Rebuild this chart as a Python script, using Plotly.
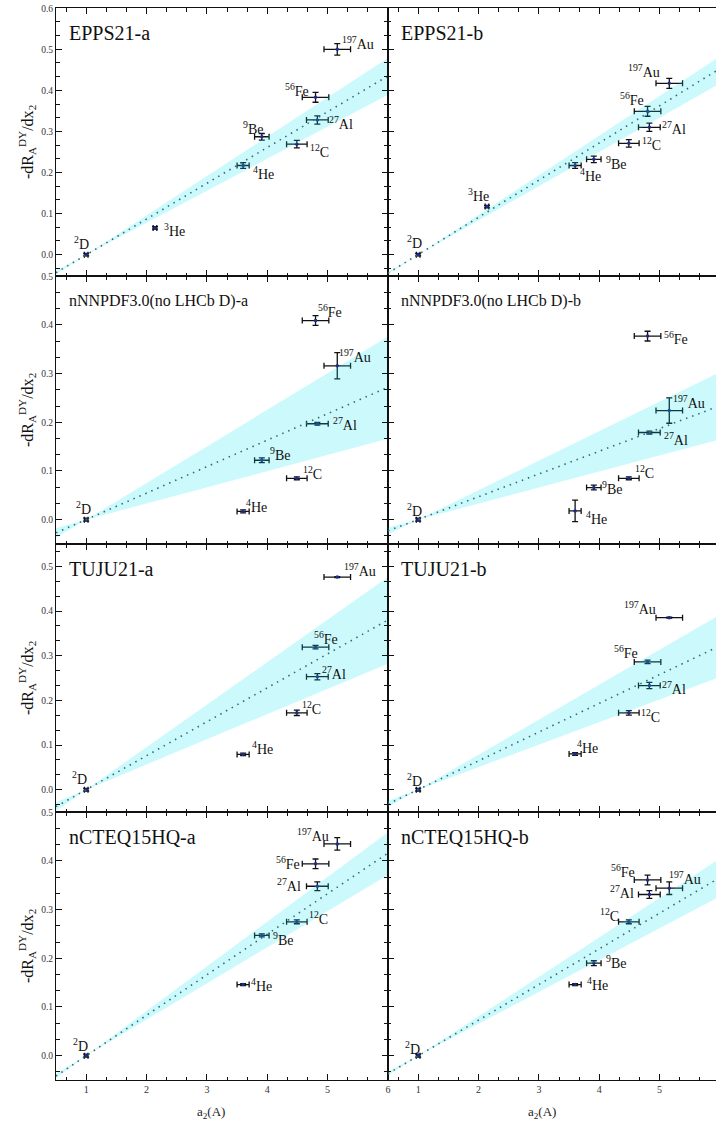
import plotly.graph_objects as go

# ---------------- data ----------------
nuclei = ["<sup>2</sup>D", "<sup>3</sup>He", "<sup>4</sup>He", "<sup>9</sup>Be",
          "<sup>12</sup>C", "<sup>27</sup>Al", "<sup>56</sup>Fe", "<sup>197</sup>Au"]
a2_vals = [1.00, 2.14, 3.60, 3.91, 4.49, 4.83, 4.80, 5.16]
a2_errs = [0.03, 0.03, 0.10, 0.12, 0.17, 0.18, 0.22, 0.22]

panel_names = ["EPPS21-a", "EPPS21-b",
               "nNNPDF3.0(no LHCb D)-a", "nNNPDF3.0(no LHCb D)-b",
               "TUJU21-a", "TUJU21-b",
               "nCTEQ15HQ-a", "nCTEQ15HQ-b"]

epps_a_y = [0.0, 0.065, 0.217, 0.287, 0.269, 0.328, 0.383, 0.500]
epps_a_err = [0.003, 0.003, 0.007, 0.008, 0.009, 0.010, 0.012, 0.014]
epps_b_y = [0.0, 0.117, 0.217, 0.232, 0.271, 0.310, 0.349, 0.417]
epps_b_err = [0.003, 0.003, 0.007, 0.008, 0.009, 0.010, 0.012, 0.012]
nnpdf_a_y = [0.0, None, 0.017, 0.122, 0.085, 0.197, 0.409, 0.316]
nnpdf_a_err = [0.003, None, 0.003, 0.005, 0.003, 0.003, 0.010, 0.027]
nnpdf_b_y = [0.0, None, 0.018, 0.066, 0.085, 0.179, 0.377, 0.224]
nnpdf_b_err = [0.003, None, 0.022, 0.005, 0.003, 0.003, 0.010, 0.026]
tuju_a_y = [0.0, None, 0.079, None, 0.172, 0.253, 0.319, 0.476]
tuju_a_err = [0.003, None, 0.003, None, 0.006, 0.007, 0.004, 0.001]
tuju_b_y = [0.0, None, 0.080, None, 0.172, 0.233, 0.286, 0.385]
tuju_b_err = [0.003, None, 0.003, None, 0.005, 0.007, 0.004, 0.001]
ncteq_a_y = [0.0, None, 0.146, 0.247, 0.275, 0.348, 0.394, 0.435]
ncteq_a_err = [0.003, None, 0.002, 0.003, 0.004, 0.009, 0.010, 0.013]
ncteq_b_y = [0.0, None, 0.146, 0.190, 0.275, 0.331, 0.361, 0.344]
ncteq_b_err = [0.003, None, 0.002, 0.005, 0.004, 0.008, 0.010, 0.013]

fit_x = [0.5, 6.0]
epps_a_fit = [-0.044, 0.435]
epps_b_fit = [-0.045, 0.453]
nnpdf_a_fit = [-0.027, 0.272]
nnpdf_b_fit = [-0.023, 0.234]
tuju_a_fit = [-0.038, 0.380]
tuju_b_fit = [-0.032, 0.322]
ncteq_a_fit = [-0.042, 0.416]
ncteq_b_fit = [-0.037, 0.366]

band_x = [0.5, 1.0, 6.0]
epps_a_lo, epps_a_hi = [-0.048, 0.0, 0.389], [-0.039, 0.0, 0.479]
epps_b_lo, epps_b_hi = [-0.048, 0.0, 0.417], [-0.042, 0.0, 0.483]
nnpdf_a_lo, nnpdf_a_hi = [-0.037, 0.0, 0.166], [-0.017, 0.0, 0.376]
nnpdf_b_lo, nnpdf_b_hi = [-0.030, 0.0, 0.165], [-0.016, 0.0, 0.303]
tuju_a_lo, tuju_a_hi = [-0.048, 0.0, 0.282], [-0.028, 0.0, 0.476]
tuju_b_lo, tuju_b_hi = [-0.039, 0.0, 0.252], [-0.025, 0.0, 0.392]
ncteq_a_lo, ncteq_a_hi = [-0.046, 0.0, 0.371], [-0.037, 0.0, 0.459]
ncteq_b_lo, ncteq_b_hi = [-0.041, 0.0, 0.327], [-0.033, 0.0, 0.405]

panel_y = [epps_a_y, epps_b_y, nnpdf_a_y, nnpdf_b_y, tuju_a_y, tuju_b_y, ncteq_a_y, ncteq_b_y]
panel_err = [epps_a_err, epps_b_err, nnpdf_a_err, nnpdf_b_err, tuju_a_err, tuju_b_err, ncteq_a_err, ncteq_b_err]
panel_fit = [epps_a_fit, epps_b_fit, nnpdf_a_fit, nnpdf_b_fit, tuju_a_fit, tuju_b_fit, ncteq_a_fit, ncteq_b_fit]
panel_lo = [epps_a_lo, epps_b_lo, nnpdf_a_lo, nnpdf_b_lo, tuju_a_lo, tuju_b_lo, ncteq_a_lo, ncteq_b_lo]
panel_hi = [epps_a_hi, epps_b_hi, nnpdf_a_hi, nnpdf_b_hi, tuju_a_hi, tuju_b_hi, ncteq_a_hi, ncteq_b_hi]

# ---------------- layout settings (label offsets in px: dx right, dy down) ----------------
label_offsets = [
    [(-5, -12), (20, 2), (20, 7), (-9, -9), (23, 7), (24, 3), (-19, -7), (21, -6)],
    [(-4, -13), (-8, -12), (15, 9), (22, 4), (23, 1), (25, 1), (-16, -12), (-25, -12)],
    [(-3, -12), None, (13, -5), (18, -6), (16, -5), (28, 0), (14, -10), (18, -10)],
    [(-4, -10), None, (21, 7), (18, 0), (16, -6), (27, 6), (28, 2), (20, -9)],
    [(-7, -12), None, (19, -6), None, (15, -5), (17, -4), (10, -9), (23, -7)],
    [(-4, -10), None, (12, -7), None, (22, 3), (25, 2), (-22, -10), (-29, -10)],
    [(-6, -11), None, (18, 0), (21, 4), (22, -4), (-28, -1), (-28, -1), (-24, -9)],
    [(-6, -8), None, (22, -1), (22, -1), (-19, -7), (-27, -3), (-25, -9), (16, -10)],
]
title_sizes = [20, 20, 16, 16, 20, 20, 20, 20]
row_yranges = [[-0.052, 0.6005], [-0.05, 0.5005], [-0.05, 0.55], [-0.05, 0.5005]]
row_domains = [[0.75, 1.0], [0.5, 0.75], [0.25, 0.5], [0.0, 0.25]]
col_domains = [[0.0, 0.503], [0.503, 1.0]]
col_xranges = [[0.5, 6.0001], [0.5, 5.934]]

SERIF = "Liberation Serif, Times New Roman, serif"
fig = go.Figure()
annotations = []

for i in range(8):
    r, c = divmod(i, 2)
    ax = "" if i == 0 else str(i + 1)
    xref, yref = "x" + ax, "y" + ax
    xs = [a2_vals[k] for k in range(8) if panel_y[i][k] is not None]
    xe = [a2_errs[k] for k in range(8) if panel_y[i][k] is not None]
    ys = [panel_y[i][k] for k in range(8) if panel_y[i][k] is not None]
    ye = [panel_err[i][k] for k in range(8) if panel_y[i][k] is not None]
    fig.add_trace(go.Scatter(
        x=xs, y=ys, mode="markers", xaxis=xref, yaxis=yref, showlegend=False,
        marker=dict(size=3.5, color="#1c2b8f"),
        error_x=dict(type="data", array=xe, color="#111111", thickness=1.3, width=3),
        error_y=dict(type="data", array=ye, color="#111111", thickness=1.3, width=3),
    ))
    bx = band_x + band_x[::-1]
    by = panel_hi[i] + panel_lo[i][::-1]
    fig.add_trace(go.Scatter(
        x=bx, y=by, mode="lines", fill="toself", xaxis=xref, yaxis=yref, showlegend=False,
        fillcolor="rgba(0,232,242,0.2)", line=dict(width=0), hoverinfo="skip",
    ))
    fig.add_trace(go.Scatter(
        x=fit_x, y=panel_fit[i], mode="lines", xaxis=xref, yaxis=yref, showlegend=False,
        line=dict(color="#2b6e78", width=1.6, dash="1.5px,5px"),
    ))
    for k in range(8):
        if panel_y[i][k] is None or label_offsets[i][k] is None:
            continue
        dx, dy = label_offsets[i][k]
        annotations.append(dict(
            x=a2_vals[k], y=panel_y[i][k], xref=xref, yref=yref, text=nuclei[k],
            showarrow=False, xshift=dx, yshift=-dy, xanchor="center", yanchor="middle",
            font=dict(family=SERIF, size=14, color="#111111"),
        ))
    annotations.append(dict(
        x=0, y=1, xref=xref + " domain", yref=yref + " domain", text=panel_names[i],
        showarrow=False, xshift=11, yshift=-25, xanchor="left", yanchor="middle",
        font=dict(family=SERIF, size=title_sizes[i], color="#111111"),
    ))

    minor_x = dict(dtick=1 / 3, tick0=0, ticklen=3.5, tickwidth=1.1, tickcolor="#111111",
                   ticks="inside", showgrid=False)
    minor_y = dict(dtick=0.1 / 3, tick0=0, ticklen=3.5, tickwidth=1.1, tickcolor="#111111",
                   ticks="inside", showgrid=False)
    fig.update_layout(**{
        ("xaxis" + ax): dict(
            domain=col_domains[c], range=col_xranges[c], anchor=yref,
            showline=True, linecolor="#111111", linewidth=1, mirror="allticks",
            ticks="inside", ticklen=6, tickwidth=1.2, tickcolor="#111111",
            dtick=1, tick0=0, showgrid=False, zeroline=False,
            showticklabels=(r == 3),
            tickfont=dict(family=SERIF, size=10, color="#333333"),
            minor=minor_x,
        ),
        ("yaxis" + ax): dict(
            domain=row_domains[r], range=row_yranges[r], anchor=xref,
            showline=True, linecolor="#111111", linewidth=1,
            mirror=("allticks" if c == 0 else False),
            ticks="inside", ticklen=6, tickwidth=1.2, tickcolor="#111111",
            dtick=0.1, tick0=0, tickformat=".1f", showgrid=False, zeroline=False,
            showticklabels=(c == 0),
            tickfont=dict(family=SERIF, size=9.5, color="#333333"),
            minor=minor_y,
        ),
    })

# y-axis titles
for r in range(4):
    annotations.append(dict(
        x=-0.0438, y=sum(row_domains[r]) / 2, xref="paper", yref="paper",
        text="-dR<sub>A</sub><sup>DY</sup>/dx<sub>2</sub>", textangle=-90,
        showarrow=False, xanchor="center", yanchor="middle",
        font=dict(family=SERIF, size=16, color="#111111"),
    ))
# x-axis titles
for xc in [0.235, 0.736]:
    annotations.append(dict(
        x=xc, y=-0.0299, xref="paper", yref="paper", text="a<sub>2</sub>(A)",
        showarrow=False, xanchor="center", yanchor="middle",
        font=dict(family=SERIF, size=13, color="#222222"),
    ))

fig.update_layout(
    width=718, height=1124,
    margin=dict(l=56, r=0, t=8, b=44),
    paper_bgcolor="white", plot_bgcolor="white",
    annotations=annotations, showlegend=False,
)
fig.write_html("out.html")
